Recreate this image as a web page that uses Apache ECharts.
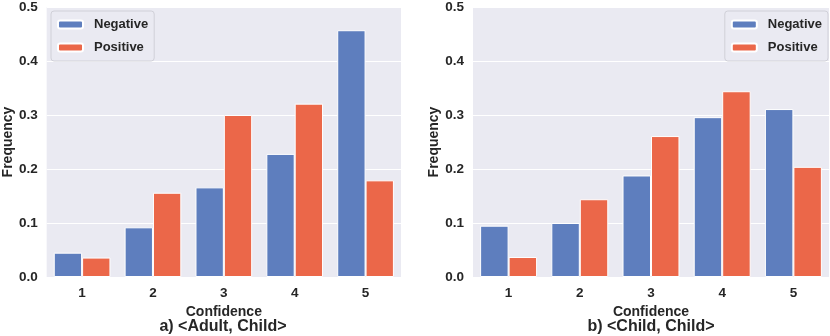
<!DOCTYPE html>
<html>
<head>
<meta charset="utf-8">
<script src="https://cdn.jsdelivr.net/npm/echarts@6/dist/echarts.min.js"></script>
<style>
html, body { margin: 0; padding: 0; background: #fff; }
#chart { width: 830px; height: 336px; }
</style>
</head>
<body>
<div id="chart"></div>
<script>
// data
var confidence = ['1', '2', '3', '4', '5'];
var adultNegative = [0.045, 0.092, 0.166, 0.228, 0.457];
var adultPositive = [0.036, 0.156, 0.300, 0.321, 0.179];
var childNegative = [0.095, 0.100, 0.188, 0.296, 0.311];
var childPositive = [0.037, 0.144, 0.261, 0.344, 0.204];
var panelTitles = ['a) <Adult, Child>', 'b) <Child, Child>'];

var blue = '#5e7ebe';
var red = '#eb6749';
var txt = '#262626';
var font = 'Liberation Sans';

function yAxis(idx) {
    return {
        type: 'value',
        gridIndex: idx,
        min: 0,
        max: 0.5,
        interval: 0.1,
        name: 'Frequency',
        nameLocation: 'middle',
        nameGap: 31,
        nameTextStyle: { color: txt, fontFamily: font, fontWeight: 'bold', fontSize: 14 },
        axisLine: { show: false },
        axisTick: { show: false },
        axisLabel: {
            color: txt, fontFamily: font, fontWeight: 'bold', fontSize: 13.5, margin: 9,
            formatter: function (v) { return v.toFixed(1); }
        },
        splitLine: { lineStyle: { color: '#ffffff', width: 1 } }
    };
}

function xAxis(idx) {
    return {
        type: 'category',
        gridIndex: idx,
        data: confidence,
        name: 'Confidence',
        nameLocation: 'middle',
        nameGap: 25,
        nameTextStyle: { color: txt, fontFamily: font, fontWeight: 'bold', fontSize: 14 },
        axisLine: { show: false },
        axisTick: { show: false },
        axisLabel: { color: txt, fontFamily: font, fontWeight: 'bold', fontSize: 13.5, margin: 9 },
        splitLine: { show: false }
    };
}

function bars(name, data, idx, color) {
    return {
        name: name,
        type: 'bar',
        xAxisIndex: idx,
        yAxisIndex: idx,
        data: data,
        barGap: '0%',
        barCategoryGap: '20%',
        itemStyle: { color: color, borderColor: '#ffffff', borderWidth: 1 }
    };
}

function legend(pos) {
    return Object.assign({
        top: 11,
        orient: 'vertical',
        itemWidth: 25,
        itemHeight: 8,
        itemGap: 10,
        padding: [7, 6, 7, 6],
        backgroundColor: '#eaeaf2',
        borderColor: '#d0d0d8',
        borderWidth: 1,
        borderRadius: 3,
        textStyle: { color: txt, fontFamily: font, fontWeight: 'bold', fontSize: 13, padding: [0, 0, 0, 6] },
        data: ['Negative', 'Positive']
    }, pos);
}

var chart = echarts.init(document.getElementById('chart'), null, { renderer: 'canvas' });
chart.setOption({
    animation: false,
    backgroundColor: '#ffffff',
    title: [
        { text: panelTitles[0], left: 223, top: 319, textAlign: 'center', padding: 0,
          textStyle: { color: txt, fontFamily: font, fontWeight: 'bold', fontSize: 16 } },
        { text: panelTitles[1], left: 651, top: 319, textAlign: 'center', padding: 0,
          textStyle: { color: txt, fontFamily: font, fontWeight: 'bold', fontSize: 16 } }
    ],
    legend: [
        legend({ left: 51 }),
        legend({ right: 2 })
    ],
    grid: [
        { left: 45, top: 6, width: 356, height: 271, show: true, backgroundColor: '#eaeaf2', borderWidth: 0 },
        { left: 473, top: 6, width: 356, height: 271, show: true, backgroundColor: '#eaeaf2', borderWidth: 0 }
    ],
    xAxis: [xAxis(0), xAxis(1)],
    yAxis: [yAxis(0), yAxis(1)],
    series: [
        bars('Negative', adultNegative, 0, blue),
        bars('Positive', adultPositive, 0, red),
        bars('Negative', childNegative, 1, blue),
        bars('Positive', childPositive, 1, red)
    ]
});
</script>
</body>
</html>
